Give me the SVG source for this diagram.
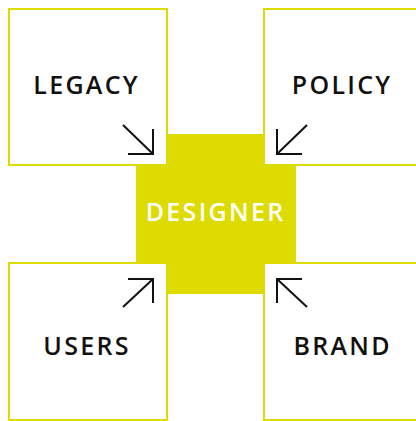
<svg xmlns="http://www.w3.org/2000/svg" width="416" height="421" viewBox="0 0 416 421">
  <style>
    .box { fill: #ffffff; stroke: #dedb00; stroke-width: 2; }
    .core { fill: #dedb00; }
    .label { font-family: "Open Sans", "Noto Sans", sans-serif; font-weight: 600; font-size: 25px; letter-spacing: 2.3px; text-anchor: middle; fill: #111111; }
    .core-label { fill: #ffffff; }
    .arrow { fill: none; stroke: #111111; stroke-width: 2; stroke-linecap: butt; stroke-linejoin: miter; }
  </style>

  <!-- central square sits underneath the four boxes -->
  <g id="designer">
    <rect class="core" x="136" y="134" width="160" height="160"/>
  </g>

  <g id="legacy">
    <rect class="box" x="9" y="9" width="158" height="156"/>
    <text class="label" x="86.6" y="94">LEGACY</text>
  </g>

  <g id="policy">
    <rect class="box" x="264" y="9" width="160" height="156"/>
    <text class="label" x="342.1" y="94">POLICY</text>
  </g>

  <g id="users">
    <rect class="box" x="9" y="263" width="158" height="157"/>
    <text class="label" x="87.1" y="355">USERS</text>
  </g>

  <g id="brand">
    <rect class="box" x="264" y="263" width="160" height="157"/>
    <text class="label" x="342.6" y="355">BRAND</text>
  </g>

  <g id="designer-label">
    <text class="label core-label" x="215.6" y="221">DESIGNER</text>
  </g>

  <!-- arrows pointing from each corner box toward the centre -->
  <g id="connectors">
    <path class="arrow" d="M123 125 L153 154"/>
    <path class="arrow" d="M128 154 H153 V129"/>

    <path class="arrow" d="M307 125 L277 154"/>
    <path class="arrow" d="M302 154 H277 V129"/>

    <path class="arrow" d="M123 307 L153 279"/>
    <path class="arrow" d="M128 279 H153 V303"/>

    <path class="arrow" d="M307 307 L277 279"/>
    <path class="arrow" d="M302 279 H277 V303"/>
  </g>
</svg>
